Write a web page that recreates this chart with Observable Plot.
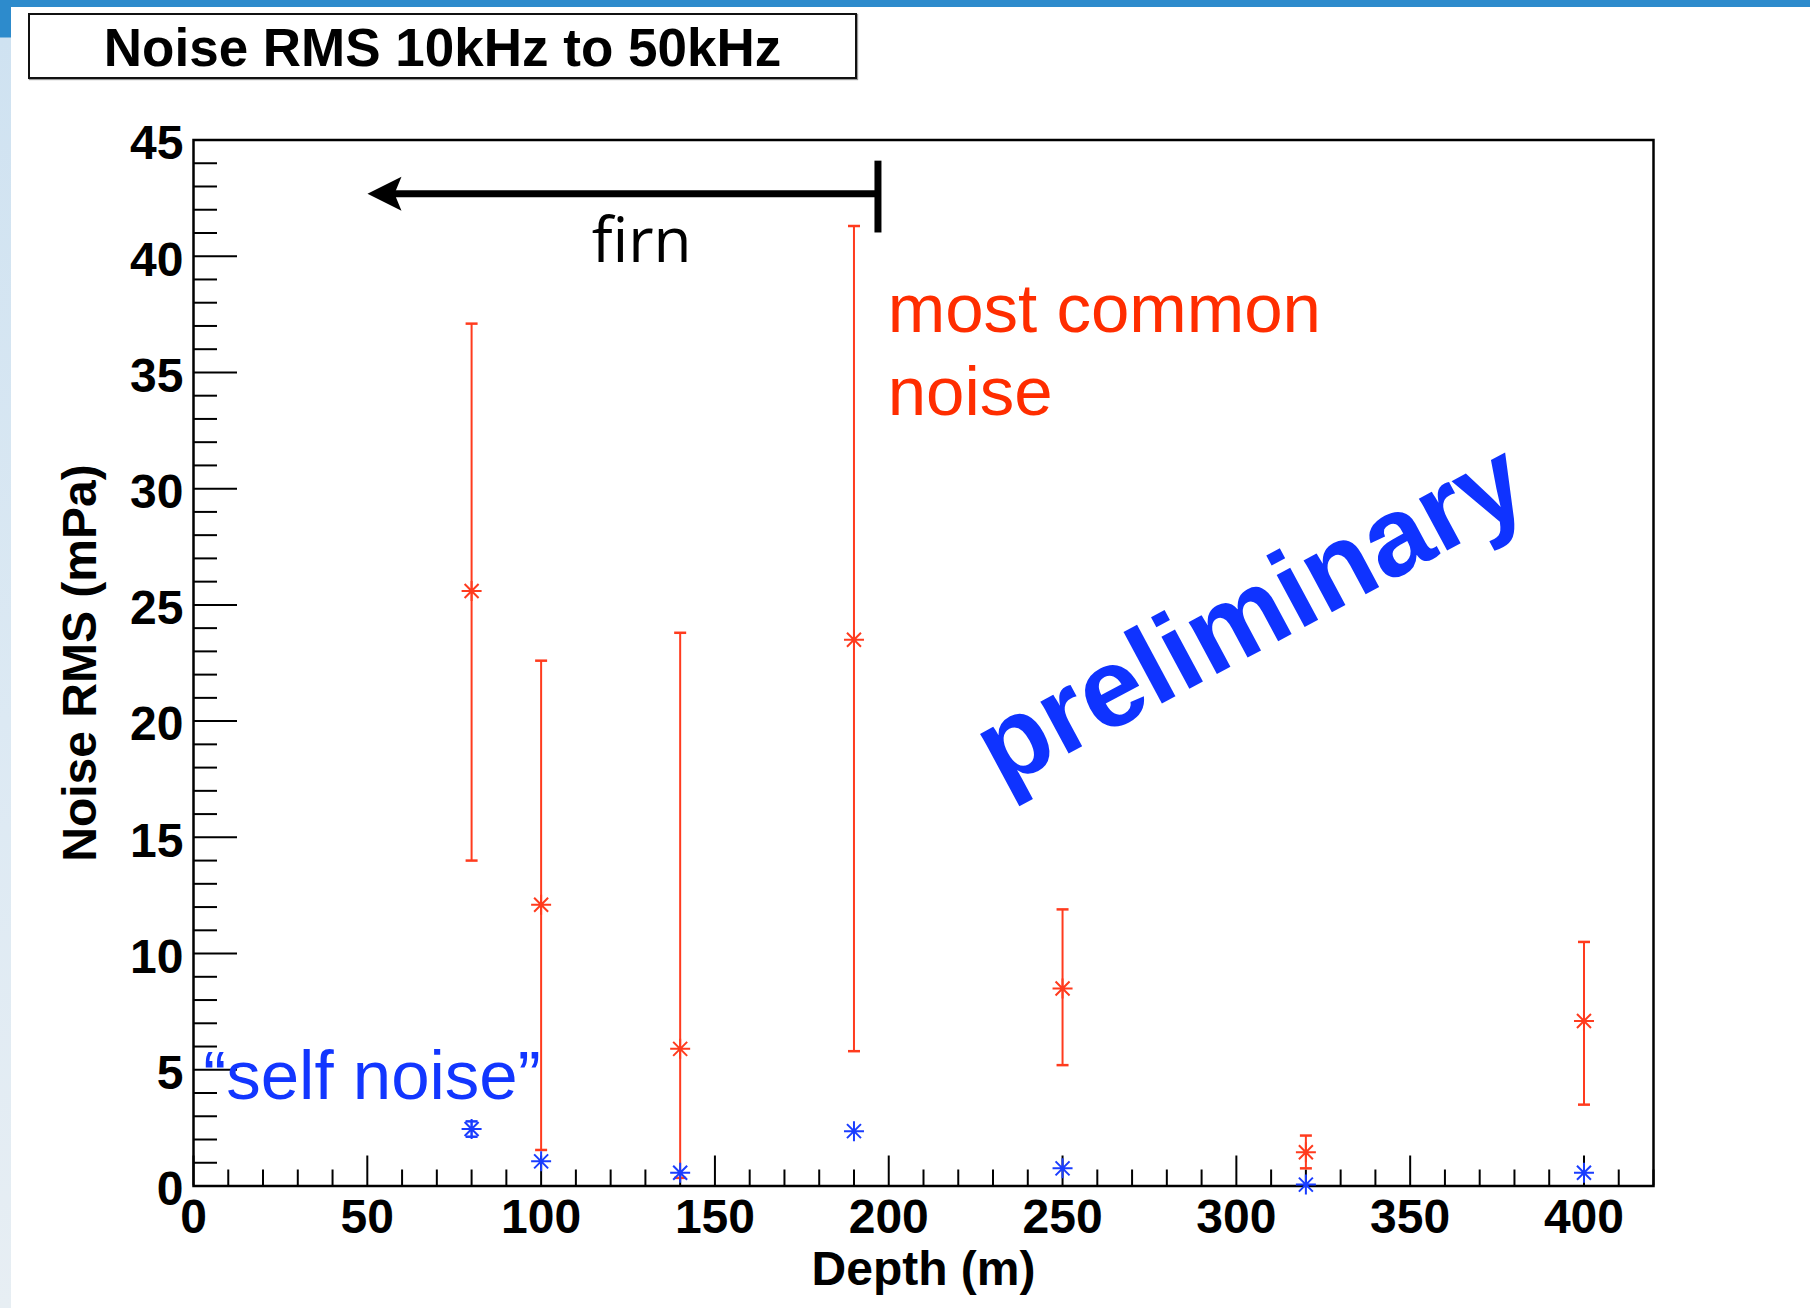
<!DOCTYPE html>
<html><head><meta charset="utf-8">
<script src="https://cdn.jsdelivr.net/npm/d3@7"></script>
<script src="https://cdn.jsdelivr.net/npm/@observablehq/plot@0.6"></script>
<style>
html,body{margin:0;padding:0;background:#fff;}
#page{position:relative;width:1810px;height:1308px;overflow:hidden;background:#fff;font-family:"Liberation Sans",Arial,Helvetica,sans-serif;}
#topbar{position:absolute;left:0;top:0;width:1810px;height:7px;background:#2d8bcc;z-index:3;}
#leftbar{position:absolute;left:0;top:0;width:11px;height:1308px;background:linear-gradient(#2d8bcc 0px,#2d8bcc 37px,#cfe2f1 38px,#dce9f3 55%,#e7eef3 100%);z-index:3;}
#header{position:relative;height:90px;}
#titlebox{position:absolute;left:28px;top:13px;width:825px;height:58px;padding-top:4px;border:2px solid #111;box-shadow:1px 1px 1px #999;text-align:center;font-weight:bold;font-size:53px;color:#000;line-height:58px;box-sizing:content-box;white-space:nowrap;}
#chart svg{display:block;}
</style></head>
<body><div id="page"><div id="topbar"></div><div id="leftbar"></div>
<div id="header"><div id="titlebox">Noise RMS 10kHz to 50kHz</div></div>
<div id="chart"></div></div>
<script>
// ---- data ----
const depth = [80, 100, 140, 190, 250, 320, 400];
const commonRms  = [25.6, 12.1, 5.9, 23.5, 8.5, 1.45, 7.1];
const commonLow  = [14.0, 1.55, 0.35, 5.8, 5.2, 0.76, 3.5];
const commonHigh = [37.1, 22.6, 23.8, 41.3, 11.9, 2.17, 10.5];
const selfRms  = [2.45, 1.06, 0.57, 2.36, 0.76, 0.06, 0.57];
const selfLow  = [2.12, 1.06, 0.57, 2.36, 0.76, 0.06, 0.57];
const selfHigh = [2.78, 1.06, 0.57, 2.36, 0.76, 0.06, 0.57];
const xTicks = [0, 50, 100, 150, 200, 250, 300, 350, 400];
const yTicks = [0, 5, 10, 15, 20, 25, 30, 35, 40, 45];
const xMinor = d3.range(0, 421, 10).filter(d => d % 50 !== 0);
const yMinor = d3.range(0, 46, 1).filter(d => d % 5 !== 0);
const xLabel = "Depth (m)";
const yLabel = "Noise RMS (mPa)";

// annotations (data coordinates)
const firnArrow = {tip: 50.05, end: 196.9, y: 42.69, barLow: 41.0, barHigh: 44.09};
const firnText = [{x: 128.9, y: 39.74, text: "firn"}];
const commonText = [{x: 199.7, y: 36.76, text: "most common"}, {x: 199.7, y: 33.19, text: "noise"}];
const selfText = [{x: 2.8, y: 3.75, text: "\u201Cself noise\u201D"}];
const prelimText = [{x: 304.1, y: 24.55, text: "preliminary"}];

const common = depth.map((d, i) => ({depth: d, rms: commonRms[i], low: commonLow[i], high: commonHigh[i]}));
const self = depth.map((d, i) => ({depth: d, rms: selfRms[i], low: selfLow[i], high: selfHigh[i]}));
const selfErr = self.filter(d => d.high > d.low);

// ---- styles ----
const RED = "#ff3b1e", BLUE = "#1a3dff";
const W = 1810, H = 1218, mL = 193, mR = 157, mT = 49.5, mB = 122.5;
const plotW = W - mL - mR, plotH = H - mT - mB;

const star = {draw(ctx, size) {
  const r = Math.sqrt(size / Math.PI), d = r * 0.7;
  ctx.moveTo(-r, 0); ctx.lineTo(r, 0);
  ctx.moveTo(0, -r); ctx.lineTo(0, r);
  ctx.moveTo(-d, -d); ctx.lineTo(d, d);
  ctx.moveTo(-d, d); ctx.lineTo(d, -d);
}};
const cap = {draw(ctx, size) {
  const r = Math.sqrt(size / Math.PI);
  ctx.moveTo(-r, 0); ctx.lineTo(r, 0);
}};
const arrowHead = {draw(ctx) {
  ctx.moveTo(0, 0); ctx.lineTo(34, -17); ctx.lineTo(27, 0); ctx.lineTo(34, 17); ctx.closePath();
}};

const chart = Plot.plot({
  width: W, height: H,
  marginLeft: mL, marginRight: mR, marginTop: mT, marginBottom: mB,
  x: {domain: [0, 420], axis: null},
  y: {domain: [0, 45], axis: null},
  style: {fontFamily: "'Liberation Sans', Arial, Helvetica, sans-serif", background: "transparent", overflow: "visible"},
  marks: [
    // ticks (inside the frame)
    Plot.tickX(xMinor, {x: d => d, insetTop: plotH - 16, stroke: "#000", strokeWidth: 2}),
    Plot.tickX(xTicks, {x: d => d, insetTop: plotH - 30, stroke: "#000", strokeWidth: 2}),
    Plot.tickY(yMinor, {y: d => d, insetRight: plotW - 24, stroke: "#000", strokeWidth: 2}),
    Plot.tickY(yTicks, {y: d => d, insetRight: plotW - 44, stroke: "#000", strokeWidth: 2}),
    Plot.frame({stroke: "#000", strokeWidth: 2.5}),
    // tick labels
    Plot.text(xTicks, {x: d => d, text: d => String(d), frameAnchor: "bottom", textAnchor: "middle", lineAnchor: "top", dy: 13, fontSize: 48, fontWeight: "bold", fill: "#000"}),
    Plot.text(yTicks, {y: d => d, text: d => String(d), frameAnchor: "left", textAnchor: "end", lineAnchor: "middle", dx: -10, dy: 4, fontSize: 48, fontWeight: "bold", fill: "#000"}),
    // axis titles
    Plot.text([xLabel], {frameAnchor: "bottom", textAnchor: "middle", lineAnchor: "middle", dy: 84, fontSize: 48, fontWeight: "bold", fill: "#000"}),
    Plot.text([yLabel], {frameAnchor: "left", textAnchor: "middle", lineAnchor: "middle", rotate: -90, dx: -113, fontSize: 48, fontWeight: "bold", fill: "#000"}),
    // annotations
    Plot.text(selfText, {x: "x", y: "y", text: "text", textAnchor: "start", lineAnchor: "bottom", fontSize: 69, fill: "#1236ff"}),
    Plot.text(commonText, {x: "x", y: "y", text: "text", textAnchor: "start", lineAnchor: "bottom", fontSize: 69, fill: "#ff2d00"}),
    Plot.text(firnText, {x: "x", y: "y", text: "text", textAnchor: "middle", lineAnchor: "bottom", fontSize: 62, fill: "#000", fontFamily: "'Open Sans', 'Noto Sans', sans-serif"}),
    Plot.text(prelimText, {x: "x", y: "y", text: "text", textAnchor: "middle", lineAnchor: "middle", rotate: -28.2, fontSize: 112, fontWeight: "bold", fill: "#0f33ff"}),
    Plot.ruleY([firnArrow], {y: "y", x1: d => d.tip + 7, x2: "end", stroke: "#000", strokeWidth: 7}),
    Plot.ruleX([firnArrow], {x: "end", y1: "barLow", y2: "barHigh", stroke: "#000", strokeWidth: 7}),
    Plot.dot([firnArrow], {x: "tip", y: "y", symbol: arrowHead, r: 10, fill: "#000", stroke: "none"}),
    // most common noise (red)
    Plot.ruleX(common, {x: "depth", y1: "low", y2: "high", stroke: RED, strokeWidth: 2}),
    Plot.dot(common, {x: "depth", y: "low", symbol: cap, r: 6, fill: "none", stroke: RED, strokeWidth: 2.5}),
    Plot.dot(common, {x: "depth", y: "high", symbol: cap, r: 6, fill: "none", stroke: RED, strokeWidth: 2.5}),
    Plot.dot(common, {x: "depth", y: "rms", symbol: star, r: 10, fill: "none", stroke: RED, strokeWidth: 2}),
    // self noise (blue)
    Plot.ruleX(selfErr, {x: "depth", y1: "low", y2: "high", stroke: BLUE, strokeWidth: 2}),
    Plot.dot(selfErr, {x: "depth", y: "low", symbol: cap, r: 6, fill: "none", stroke: BLUE, strokeWidth: 2.5}),
    Plot.dot(selfErr, {x: "depth", y: "high", symbol: cap, r: 6, fill: "none", stroke: BLUE, strokeWidth: 2.5}),
    Plot.dot(self, {x: "depth", y: "rms", symbol: star, r: 10, fill: "none", stroke: BLUE, strokeWidth: 2})
  ]
});
document.getElementById("chart").appendChild(chart);
</script></body></html>
